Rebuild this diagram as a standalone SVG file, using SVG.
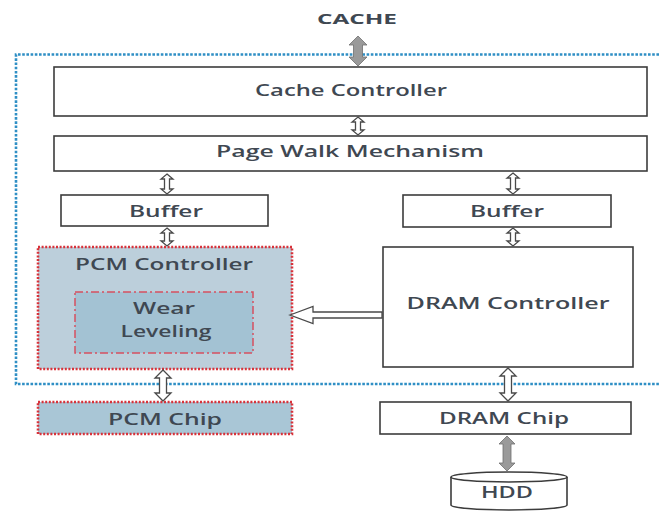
<svg xmlns="http://www.w3.org/2000/svg" width="659" height="512" viewBox="0 0 659 512">
<style>
  .box { fill: #ffffff; stroke: #3c3c3c; stroke-width: 1.6; }
  .pcm { stroke: #d8323a; stroke-width: 2.6; stroke-dasharray: 2 1.6; }
  .wear { fill: #a3c2d3; stroke: #d65060; stroke-width: 1.5; stroke-dasharray: 8 3 2 3; }
  .lbl { font-family: "Open Sans", "Liberation Sans", sans-serif; font-weight: 600; font-size: 17px; fill: #3f4852; text-anchor: middle; }
  .hollow { fill: #ffffff; stroke: #4a4a4a; stroke-width: 1.3; stroke-linejoin: miter; }
  .gray { fill: #9a9a9a; stroke: #6e6e6e; stroke-width: 0.8; }
  .frame { fill: none; stroke: #2f8fc5; stroke-width: 2.6; stroke-dasharray: 2.6 1.6; }
</style>
<rect width="659" height="512" fill="#ffffff"/>

<g id="frame">
  <path class="frame" d="M659,54.5 H16 V384 H659"/>
</g>

<g id="cache">
  <text class="lbl" x="357" y="24" font-size="14" font-weight="700" fill="#4a4f55" textLength="80" lengthAdjust="spacingAndGlyphs" style="font-size:14px;font-weight:700">CACHE</text>
</g>

<g id="cache-controller">
  <rect class="box" x="54" y="67" width="593" height="49"/>
  <text class="lbl" x="351" y="96" textLength="192" lengthAdjust="spacingAndGlyphs">Cache Controller</text>
</g>

<g id="page-walk">
  <rect class="box" x="54" y="136" width="593" height="35"/>
  <text class="lbl" x="350" y="157" textLength="268" lengthAdjust="spacingAndGlyphs">Page Walk Mechanism</text>
</g>

<g id="buffer-left">
  <rect class="box" x="61" y="195" width="207" height="31"/>
  <text class="lbl" x="166" y="217" textLength="74" lengthAdjust="spacingAndGlyphs">Buffer</text>
</g>

<g id="buffer-right">
  <rect class="box" x="403" y="195" width="208" height="32"/>
  <text class="lbl" x="507" y="217" textLength="74" lengthAdjust="spacingAndGlyphs">Buffer</text>
</g>

<g id="pcm-controller">
  <rect class="pcm" x="38" y="247" width="254" height="122" fill="#bccfdb"/>
  <text class="lbl" x="164" y="270" textLength="178" lengthAdjust="spacingAndGlyphs">PCM Controller</text>
</g>

<g id="wear-leveling">
  <rect class="wear" x="75" y="292" width="178" height="61"/>
  <text class="lbl" x="164" y="314" textLength="62" lengthAdjust="spacingAndGlyphs">Wear</text>
  <text class="lbl" x="166" y="337" textLength="91" lengthAdjust="spacingAndGlyphs">Leveling</text>
</g>

<g id="dram-controller">
  <rect class="box" x="383" y="247" width="250" height="120"/>
  <text class="lbl" x="508" y="309" textLength="203" lengthAdjust="spacingAndGlyphs">DRAM Controller</text>
</g>

<g id="pcm-chip">
  <rect class="pcm" x="38" y="402" width="254" height="32" fill="#a9c6d6"/>
  <text class="lbl" x="165" y="425" textLength="114" lengthAdjust="spacingAndGlyphs">PCM Chip</text>
</g>

<g id="dram-chip">
  <rect class="box" x="380" y="402" width="251" height="32"/>
  <text class="lbl" x="504" y="424" textLength="130" lengthAdjust="spacingAndGlyphs">DRAM Chip</text>
</g>

<g id="hdd">
  <path class="box" d="M451,477 V505 A58,5 0 0 0 567,505 V477"/>
  <ellipse class="box" cx="509" cy="477" rx="58" ry="5"/>
  <text class="lbl" x="507" y="498" textLength="52" lengthAdjust="spacingAndGlyphs">HDD</text>
</g>

<g id="connectors">
  <path class="gray" d="M358,36 L367,45 L362.5,45 L362.5,57 L367,57 L358,66 L349,57 L353.5,57 L353.5,45 L349,45 Z"/>
  <path class="hollow" d="M358,117 L364,122 L360.5,122 L360.5,130 L364,130 L358,135 L352,130 L355.5,130 L355.5,122 L352,122 Z"/>
  <path class="hollow" d="M167,174 L173,179 L169.5,179 L169.5,189 L173,189 L167,194 L161,189 L164.5,189 L164.5,179 L161,179 Z"/>
  <path class="hollow" d="M513,173 L519,178 L515.5,178 L515.5,189 L519,189 L513,194 L507,189 L510.5,189 L510.5,178 L507,178 Z"/>
  <path class="hollow" d="M167,228 L173,233 L169.5,233 L169.5,241 L173,241 L167,246 L161,241 L164.5,241 L164.5,233 L161,233 Z"/>
  <path class="hollow" d="M513,228 L519,233 L515.5,233 L515.5,241 L519,241 L513,246 L507,241 L510.5,241 L510.5,233 L507,233 Z"/>
  <path class="hollow" d="M163,370 L171,378 L166.5,378 L166.5,393 L171,393 L163,401 L155,393 L159.5,393 L159.5,378 L155,378 Z"/>
  <path class="hollow" d="M508,368 L516,376 L511.5,376 L511.5,393 L516,393 L508,401 L500,393 L504.5,393 L504.5,376 L500,376 Z"/>
  <path class="hollow" d="M290,315 L313,306.5 L313,312 L382,312 L382,318 L313,318 L313,323.5 Z"/>
  <path class="gray" d="M507,436 L515,444 L511,444 L511,463 L515,463 L507,471 L499,463 L503,463 L503,444 L499,444 Z"/>
</g>
</svg>
